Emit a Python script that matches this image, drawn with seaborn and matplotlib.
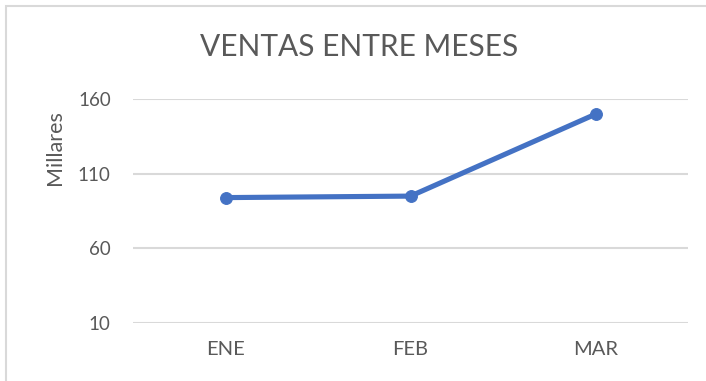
import matplotlib
matplotlib.use("Agg")
import matplotlib.pyplot as plt
from matplotlib.patches import Rectangle
import seaborn as sns
import pandas as pd

meses = ["ENE", "FEB", "MAR"]
ventas = [94, 95, 150]
y_ticks = [10, 60, 110, 160]

sns.set_theme(style="white")
plt.rcParams["font.family"] = ["Lato", "DejaVu Sans"]

df = pd.DataFrame({"mes": meses, "ventas": ventas})

fig = plt.figure(figsize=(7.06, 3.81), dpi=100)
ax = fig.add_axes([133 / 706, 1 - 322.7 / 381, 555 / 706, 223.4 / 381])

line_color = "#4472C4"
grid_color = "#D9D9D9"
text_color = "#595959"

ax.set_ylim(10, 160)
ax.set_yticks(y_ticks)
ax.yaxis.grid(True, color=grid_color, linewidth=1.5)
ax.set_axisbelow(True)

sns.lineplot(data=df, x="mes", y="ventas", ax=ax, color=line_color,
             linewidth=3.7, marker="o", markersize=8.5,
             markeredgecolor=line_color, sort=False)
ax.set_xlim(-0.5, 2.5)

for s in ax.spines.values():
    s.set_visible(False)
ax.tick_params(axis="both", length=0, labelcolor=text_color)
ax.tick_params(axis="y", pad=16, labelsize=13.5)
ax.tick_params(axis="x", pad=13, labelsize=14.5)
ax.set_xlabel("")
ax.set_ylabel("")

fig.text(55 / 706, 1 - 147.5 / 381, "Millares", rotation=90, ha="center",
         va="center", color=text_color, fontsize=15.5)
fig.text(359 / 706, 1 - 47 / 381, "VENTAS ENTRE MESES", ha="center",
         va="center", color=text_color, fontsize=21.5)

# chart frame
fig.patches.append(Rectangle((5.5 / 706, -0.05), 1.2, 1 - 5.5 / 381 + 0.05,
                             transform=fig.transFigure, fill=False,
                             edgecolor=grid_color, linewidth=1.5))

fig.savefig("out.png", dpi=100)
